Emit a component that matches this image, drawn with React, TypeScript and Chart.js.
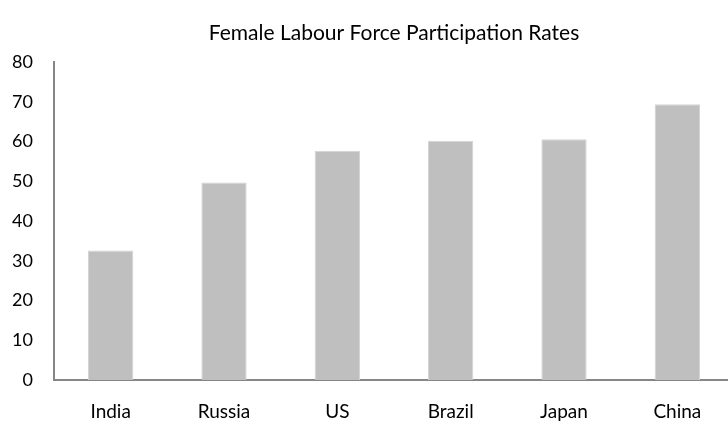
import React, { useEffect, useRef } from "react";
import { Chart, registerables } from "chart.js";

Chart.register(...registerables);

const categories = ["India", "Russia", "US", "Brazil", "Japan", "China"];
const participationRates = [32.6, 49.7, 57.7, 60.2, 60.6, 69.4];
const yTicks = [0, 10, 20, 30, 40, 50, 60, 70, 80];
const chartTitle = "Female Labour Force Participation Rates";

const FONT = "Lato, 'Open Sans', sans-serif";

export default function App() {
  const ref = useRef<HTMLCanvasElement | null>(null);

  useEffect(() => {
    document.body.style.margin = "0";
    if (!ref.current) return;
    const chart = new Chart(ref.current, {
      type: "bar",
      data: {
        labels: categories,
        datasets: [
          {
            data: participationRates,
            backgroundColor: "#BFBFBF",
            borderColor: "#D4D4D4",
            borderWidth: 1,
            barPercentage: 0.4,
            categoryPercentage: 1,
          },
        ],
      },
      options: {
        responsive: false,
        animation: false,
        layout: { padding: { left: 0, right: 6, top: 0, bottom: 0 } },
        plugins: {
          legend: { display: false },
          tooltip: { enabled: false },
          title: {
            display: true,
            text: chartTitle,
            fullSize: false,
            color: "#000",
            font: { family: FONT, size: 21, weight: "normal" },
            padding: { top: 21, bottom: 16 },
          },
        },
        scales: {
          x: {
            afterFit: (s: any) => {
              s.height = 41;
            },
            grid: { display: false, drawTicks: false },
            border: { display: true, color: "#868686", width: 2 },
            ticks: {
              color: "#000",
              font: { family: FONT, size: 19 },
              padding: 20,
            },
          },
          y: {
            min: 0,
            max: 80,
            afterFit: (s: any) => {
              s.width = 54;
            },
            afterBuildTicks: (s: any) => {
              s.ticks = yTicks.map((v) => ({ value: v }));
            },
            grid: { display: false, drawTicks: false },
            border: { display: true, color: "#868686", width: 2 },
            ticks: {
              color: "#000",
              font: { family: FONT, size: 18 },
              padding: 21,
            },
          },
        },
      },
    });
    return () => chart.destroy();
  }, []);

  return (
    <div style={{ position: "relative", width: 728, height: 421, overflow: "hidden", background: "#fff" }}>
      <canvas ref={ref} width={740} height={421} style={{ display: "block" }} />
    </div>
  );
}
